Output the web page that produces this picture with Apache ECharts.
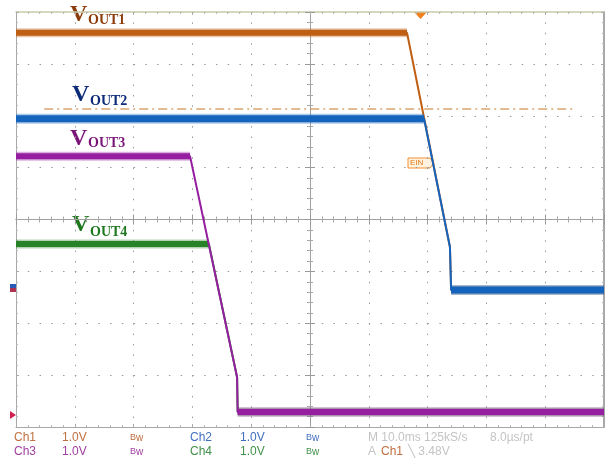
<!DOCTYPE html>
<html>
<head>
<meta charset="utf-8">
<style>
  html, body { margin: 0; padding: 0; background: #fff; }
  #scope { width: 609px; height: 466px; }
</style>
<script src="https://cdn.jsdelivr.net/npm/echarts@6.0.0/dist/echarts.min.js"></script>
</head>
<body>
<div id="scope"></div>
<script>
// screen in divisions: x -5..5 (10 div), y -4..4 (8 div)
const vout1 = [[-5, 3.60], [1.65, 3.60], [2.38, -0.53], [2.40, -1.36], [5, -1.36]];
const vout2 = [[-5, 1.94], [1.94, 1.94], [2.38, -0.53], [2.40, -1.36], [5, -1.36]];
const vout3 = [[-5, 1.22], [-2.04, 1.22], [-1.24, -3.04], [-1.23, -3.71], [5, -3.71]];
const vout4 = [[-5, -0.47], [-1.72, -0.47], [-1.24, -3.04], [-1.23, -3.71], [5, -3.71]];
const trigLevel = [[-4.52, 2.13], [4.46, 2.13]];

const row1 = ['Ch1', '1.0V', 'Ch2', '1.0V', 'M 10.0ms 125kS/s', '8.0µs/pt'];
const row2 = ['Ch3', '1.0V', 'Ch4', '1.0V', 'Ch1', '╲ 3.48V'];

const C1 = '#be5f14', C2 = '#1464be', C3 = '#961ea0', C4 = '#288228';

const chart = echarts.init(document.getElementById('scope'), null, { renderer: 'canvas' });

const noLabel = { show: false };
function centerAxis(pos) {
  const isX = pos === 'top' || pos === 'bottom';
  return {
    type: 'value', position: pos, min: isX ? -5 : -4, max: isX ? 5 : 4, interval: 1,
    axisLine: { show: true, onZero: true, lineStyle: { color: '#a0a0a0', width: 1 } },
    axisTick: { show: true, inside: true, length: 5, lineStyle: { color: '#999' } },
    minorTick: { show: true, splitNumber: 5, length: 3, lineStyle: { color: '#a8a8a8' } },
    axisLabel: noLabel, splitLine: { show: false }
  };
}
function frameAxis(pos, color, width, split, dash) {
  const isX = pos === 'top' || pos === 'bottom';
  return {
    type: 'value', position: pos, min: isX ? -5 : -4, max: isX ? 5 : 4, interval: 1,
    axisLine: { show: true, onZero: false, lineStyle: { color: color, width: width } },
    axisTick: { show: true, inside: true, length: 3, lineStyle: { color: '#aaa' } },
    minorTick: { show: true, splitNumber: 5, length: 2, lineStyle: { color: '#b8b8b8' } },
    axisLabel: noLabel,
    splitLine: { show: split, lineStyle: { color: '#9a9a9a', width: 1, type: dash } }
  };
}

function line(data, color, width, opacity, dash) {
  return {
    type: 'line', data: data, xAxisIndex: 2, yAxisIndex: 2,
    symbol: 'none', silent: true,
    lineStyle: { color: color, width: width, opacity: opacity, type: dash || 'solid' }
  };
}
function channel(pts, color, band) {
  const hi = pts.slice(0, 2), lo = pts.slice(-2);
  return [
    line(pts, color, 2, 1),
    line(hi, color, band + 3, 0.35), line(hi, color, band, 1),
    line(lo, color, band + 3, 0.35), line(lo, color, band, 1)
  ];
}

function vlabel(x, cyV, cyS, sub, color) {
  return [
    { type: 'text', x: x, y: cyV, style: { text: 'V', fill: color, font: 'bold 24px "Liberation Serif", serif', verticalAlign: 'middle' } },
    { type: 'text', x: x + 18, y: cyS, style: { text: sub, fill: color, font: 'bold 14px "Liberation Serif", serif', verticalAlign: 'middle' } }
  ];
}
function txt(x, y, s, color) {
  return { type: 'text', x: x, y: y, style: { text: s, fill: color, font: '12px "Liberation Sans", Arial, sans-serif', verticalAlign: 'middle' } };
}
function bw(x, y, color) {
  return { type: 'text', x: x, y: y, style: {
    text: '{b|B}{w|w}', verticalAlign: 'middle',
    rich: { b: { fill: color, font: '9px "Liberation Sans", sans-serif' },
            w: { fill: color, font: '10px "Liberation Sans", sans-serif' } } } };
}

const graphics = [].concat(
  vlabel(70, 15, 20, 'OUT1', '#8c3c0a'),
  vlabel(72, 95, 101, 'OUT2', '#0c2a78'),
  vlabel(70, 139, 143, 'OUT3', '#7a1478'),
  vlabel(72, 225, 232, 'OUT4', '#1e781e'),
  [
    // trigger position marker
    { type: 'polygon', shape: { points: [[414, 12], [427, 12], [420.5, 19]] }, style: { fill: '#f08020' } },
    // trigger level flag
    { type: 'polygon', shape: { points: [[408, 158], [430, 158], [434, 163], [430, 168], [408, 168]] },
      style: { fill: '#fff3e0', stroke: '#f09030', lineWidth: 1 } },
    { type: 'text', x: 410, y: 163, style: { text: 'EIN', fill: '#e07818', font: '8px "Liberation Sans", sans-serif', verticalAlign: 'middle' } },
    // ground markers at left edge
    { type: 'rect', shape: { x: 10, y: 284, width: 6, height: 4 }, style: { fill: '#2a5ab8' } },
    { type: 'rect', shape: { x: 10, y: 288, width: 6, height: 4 }, style: { fill: '#b03050' } },
    { type: 'polygon', shape: { points: [[10, 411], [16, 415], [10, 419]] }, style: { fill: '#d02050' } },
    // readout
    txt(14, 438, row1[0], '#c07040'), txt(62, 438, row1[1], '#c07040'), bw(130, 438, '#c07040'),
    txt(190, 438, row1[2], '#4070c0'), txt(240, 438, row1[3], '#4070c0'), bw(306, 438, '#4070c0'),
    txt(368, 438, row1[4], '#c4c4c4'), txt(490, 438, row1[5], '#c4c4c4'),
    txt(14, 452, row2[0], '#a040a0'), txt(62, 452, row2[1], '#a040a0'), bw(130, 452, '#a040a0'),
    txt(190, 452, row2[2], '#409048'), txt(240, 452, row2[3], '#409048'), bw(306, 452, '#409048'),
    txt(368, 452, 'A', '#c4c4c4'), txt(381, 452, row2[4], '#c07040'), txt(408, 452, row2[5], '#c4c4c4')
  ]
);

chart.setOption({
  animation: false,
  backgroundColor: '#ffffff',
  grid: { left: 16, top: 12, width: 588, height: 415, containLabel: false },
  xAxis: [
    centerAxis('bottom'), centerAxis('top'),
    frameAxis('bottom', '#a8a8a8', 1, true, [1.5, 8.875]),
    frameAxis('top', '#c8cca8', 1.5, false)
  ],
  yAxis: [
    centerAxis('left'), centerAxis('right'),
    frameAxis('left', '#a8a8a8', 1, true, [1.5, 10.26]),
    frameAxis('right', '#a8a8a8', 2, false)
  ],
  series: [].concat(
    [line(trigLevel, '#c87828', 1.2, 1, [9, 4, 2, 4])],
    channel(vout1, C1, 6),
    channel(vout2, C2, 7),
    channel(vout4, C4, 6),
    channel(vout3, C3, 6)
  ),
  graphic: graphics
});
window.addEventListener('resize', chart.resize);
</script>
</body>
</html>
